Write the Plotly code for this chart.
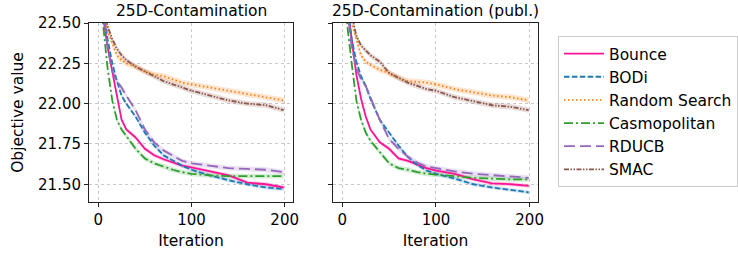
import plotly.graph_objects as go

# ---------------- data ----------------
ITER = [0, 5, 10, 15, 20, 25, 30, 40, 50, 60, 70, 80, 90, 100, 120, 140, 160, 180, 199]

TITLES = ["25D-Contamination", "25D-Contamination (publ.)"]
METHODS = ["Bounce", "BODi", "Random Search", "Casmopolitan", "RDUCB", "SMAC"]

# left panel: 25D-Contamination
L_BOUNCE = [23.2, 22.55, 22.35, 22.2, 22.05, 21.9, 21.84, 21.79, 21.72, 21.68, 21.655, 21.635, 21.615, 21.605, 21.58, 21.555, 21.51, 21.50, 21.48]
L_BODI = [23.2, 22.6, 22.4, 22.25, 22.14, 22.05, 22.0, 21.92, 21.82, 21.74, 21.68, 21.645, 21.615, 21.59, 21.555, 21.525, 21.5, 21.48, 21.47]
L_RANDOM = [23.0, 22.6, 22.45, 22.37, 22.3, 22.27, 22.25, 22.23, 22.2, 22.18, 22.17, 22.15, 22.13, 22.12, 22.1, 22.08, 22.06, 22.04, 22.02]
L_CASMO = [23.0, 22.5, 22.22, 22.02, 21.9, 21.84, 21.8, 21.72, 21.66, 21.63, 21.61, 21.59, 21.575, 21.565, 21.555, 21.55, 21.55, 21.55, 21.55]
L_RDUCB = [23.3, 22.6, 22.35, 22.2, 22.14, 22.1, 22.05, 21.96, 21.84, 21.76, 21.71, 21.675, 21.645, 21.63, 21.615, 21.60, 21.595, 21.59, 21.575]
L_SMAC = [23.0, 22.62, 22.48, 22.4, 22.34, 22.3, 22.27, 22.23, 22.2, 22.17, 22.14, 22.12, 22.1, 22.08, 22.05, 22.02, 22.0, 21.99, 21.96]

# right panel: 25D-Contamination (publ.)
R_BOUNCE = [23.2, 22.6, 22.4, 22.18, 22.03, 21.92, 21.84, 21.76, 21.72, 21.66, 21.645, 21.62, 21.60, 21.585, 21.565, 21.53, 21.505, 21.50, 21.49]
R_BODI = [23.2, 22.65, 22.4, 22.26, 22.17, 22.11, 22.03, 21.9, 21.82, 21.74, 21.67, 21.62, 21.585, 21.565, 21.535, 21.5, 21.48, 21.465, 21.45]
R_RANDOM = [23.0, 22.65, 22.5, 22.4, 22.3, 22.26, 22.24, 22.21, 22.19, 22.16, 22.14, 22.135, 22.13, 22.12, 22.09, 22.07, 22.05, 22.04, 22.02]
R_CASMO = [23.0, 22.5, 22.25, 22.02, 21.9, 21.82, 21.77, 21.70, 21.63, 21.6, 21.59, 21.575, 21.565, 21.56, 21.55, 21.54, 21.535, 21.53, 21.53]
R_RDUCB = [23.3, 22.6, 22.35, 22.22, 22.15, 22.11, 22.04, 21.9, 21.78, 21.72, 21.67, 21.635, 21.61, 21.6, 21.58, 21.565, 21.555, 21.545, 21.54]
R_SMAC = [23.0, 22.7, 22.55, 22.42, 22.36, 22.33, 22.3, 22.26, 22.19, 22.16, 22.13, 22.11, 22.09, 22.08, 22.04, 22.015, 21.99, 21.98, 21.96]

# standard error (band half width) per method
SE = [0.012, 0.012, 0.018, 0.015, 0.015, 0.017]

Y_TICKS = [21.50, 21.75, 22.00, 22.25, 22.50]
X_TICKS = [0, 100, 200]

# ---------------- styles ----------------
COLORS = ["#ff1493", "#1f77b4", "#ff7f0e", "#2ca02c", "#9467bd", "#8c564b"]
FILLS = ["rgba(255,20,147,0.2)", "rgba(31,119,180,0.2)", "rgba(255,127,14,0.2)",
         "rgba(44,160,44,0.2)", "rgba(148,103,189,0.2)", "rgba(140,86,75,0.2)"]
DASHES = ["solid", "5.5px,2.4px", "1.5px,2.5px", "9px,3px,2px,3px", "11px,5px",
          "5px,1.5px,1.5px,1.5px,1.5px,1.5px"]

panels = [
    [L_BOUNCE, L_BODI, L_RANDOM, L_CASMO, L_RDUCB, L_SMAC],
    [R_BOUNCE, R_BODI, R_RANDOM, R_CASMO, R_RDUCB, R_SMAC],
]

W, H = 738, 256


def px_x(v):
    return v / W


def px_y(v):
    return 1 - v / H


FONT = "DejaVu Sans"
fig = go.Figure()

for p, series in enumerate(panels):
    xa = "x" if p == 0 else "x2"
    ya = "y" if p == 0 else "y2"
    for i, ys in enumerate(series):
        up = [v + SE[i] for v in ys]
        lo = [v - SE[i] for v in ys]
        fig.add_trace(go.Scatter(
            x=ITER + ITER[::-1], y=up + lo[::-1], fill="toself",
            fillcolor=FILLS[i], line=dict(width=0), mode="lines",
            hoverinfo="skip", showlegend=False, xaxis=xa, yaxis=ya))
    for i, ys in enumerate(series):
        fig.add_trace(go.Scatter(
            x=ITER, y=ys, mode="lines", name=METHODS[i],
            line=dict(color=COLORS[i], width=1.8, dash=DASHES[i]),
            showlegend=(p == 0), legendgroup=METHODS[i],
            xaxis=xa, yaxis=ya))

ax_common = dict(
    showline=True, linecolor="#222222", linewidth=1, mirror=True,
    ticks="outside", ticklen=4, tickwidth=1, tickcolor="#222222",
    showgrid=True, gridcolor="#c8c8c8", griddash="dot", gridwidth=1,
    zeroline=False, automargin=False,
    tickfont=dict(family=FONT, size=15, color="black"),
)

fig.update_layout(
    width=W, height=H,
    margin=dict(l=0, r=0, t=0, b=0, autoexpand=False),
    paper_bgcolor="white", plot_bgcolor="white",
    font=dict(family=FONT, size=15, color="black"),
    xaxis=dict(domain=[px_x(89), px_x(293)], range=[-9.95, 208.95],
               tickvals=X_TICKS, anchor="y",
               title=dict(text="Iteration", font=dict(size=15.5), standoff=7), **ax_common),
    xaxis2=dict(domain=[px_x(333), px_x(538)], range=[-9.95, 208.95],
                tickvals=X_TICKS, anchor="y2",
                title=dict(text="Iteration", font=dict(size=15.5), standoff=7), **ax_common),
    yaxis=dict(domain=[px_y(202), px_y(23)], range=[21.39, 22.5],
               tickvals=Y_TICKS, tickformat=".2f", anchor="x",
               title=dict(text="Objective value", font=dict(size=15.5), standoff=10), **ax_common),
    yaxis2=dict(domain=[px_y(202), px_y(23)], range=[21.39, 22.5],
                tickvals=Y_TICKS, showticklabels=False, anchor="x2", **ax_common),
    legend=dict(
        x=px_x(558), y=px_y(36), xanchor="left", yanchor="top",
        bordercolor="#cccccc", borderwidth=1, bgcolor="white",
        font=dict(family=FONT, size=15.5, color="black"),
        tracegroupgap=5, traceorder="normal", itemwidth=40,
    ),
)

for p, t in enumerate(TITLES):
    cx = px_x((89 + 293) / 2) if p == 0 else px_x((333 + 538) / 2)
    fig.add_annotation(text=t, x=cx, y=px_y(11), xref="paper", yref="paper",
                       showarrow=False, xanchor="center", yanchor="middle",
                       font=dict(family=FONT, size=15.5, color="black"))

fig.write_html(
    "out.html",
    config={"displayModeBar": False},
    post_script="document.body.style.margin='0';document.body.style.overflow='hidden';",
)
